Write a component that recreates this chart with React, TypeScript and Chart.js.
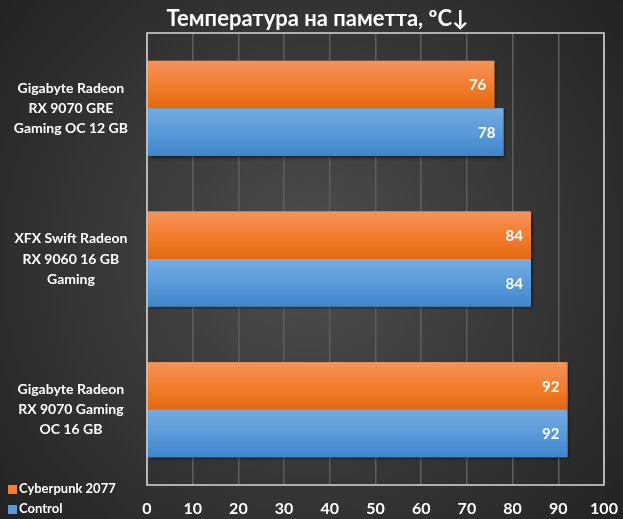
import React, { useEffect, useRef } from "react";
import { Chart, registerables } from "chart.js";

Chart.register(...registerables);

const title = "Температура на паметта, ºC↓";
const categories: string[][] = [
  ["Gigabyte Radeon", "RX 9070 GRE", "Gaming OC 12 GB"],
  ["XFX Swift Radeon", "RX 9060 16 GB", "Gaming"],
  ["Gigabyte Radeon", "RX 9070 Gaming", "OC 16 GB"],
];
const seriesNames = ["Cyberpunk 2077", "Control"];
const cyberpunk = [76, 84, 92];
const control = [78, 84, 92];
const xTicks = [0, 10, 20, 30, 40, 50, 60, 70, 80, 90, 100];

const FONT = "Lato, 'Open Sans', sans-serif";
const ORANGE = ["#f3935c", "#f47e2e", "#e2690f"];
const BLUE = ["#75abe0", "#5a9ada", "#3f86cc"];

export default function App() {
  const ref = useRef<HTMLCanvasElement | null>(null);
  useEffect(() => {
    const canvas = ref.current!;
    const bgPlugin = {
      id: "bg",
      beforeDraw(chart: any) {
        const { ctx, width, height } = chart;
        ctx.save();
        const g = ctx.createRadialGradient(width / 2, height / 2, 20, width / 2, height / 2, Math.max(width, height) * 0.75);
        g.addColorStop(0, "#4c4c4c");
        g.addColorStop(1, "#1c1c1c");
        ctx.fillStyle = g;
        ctx.fillRect(0, 0, width, height);
        ctx.fillStyle = "#ffffff";
        ctx.font = `bold 22px ${FONT}`;
        ctx.textAlign = "center";
        ctx.textBaseline = "middle";
        ctx.fillText(title, width / 2 + 6, 19);
        ctx.restore();
      },
      beforeDatasetsDraw(chart: any) {
        const { ctx } = chart;
        ctx.save();
        ctx.shadowColor = "rgba(0,0,0,0.55)";
        ctx.shadowBlur = 3;
        ctx.shadowOffsetX = 2;
        ctx.shadowOffsetY = 2;
      },
      afterDatasetsDraw(chart: any) {
        const { ctx } = chart;
        ctx.restore();
        ctx.save();
        chart.data.datasets.forEach((ds: any, di: number) => {
          const meta = chart.getDatasetMeta(di);
          const stops = di === 0 ? ORANGE : BLUE;
          meta.data.forEach((el: any, i: number) => {
            const top = el.y - el.height / 2;
            const g = ctx.createLinearGradient(0, top, 0, top + el.height);
            g.addColorStop(0, stops[0]);
            g.addColorStop(0.5, stops[1]);
            g.addColorStop(1, stops[2]);
            ctx.fillStyle = g;
            ctx.fillRect(el.base, top, el.x - el.base, el.height);
            ctx.fillStyle = "#ffffff";
            ctx.font = `bold 15px ${FONT}`;
            ctx.textAlign = "right";
            ctx.textBaseline = "middle";
            ctx.fillText(String(ds.data[i]), el.x - 8, el.y + 1);
          });
        });
        const a = chart.chartArea;
        ctx.strokeStyle = "#d9d9d9";
        ctx.lineWidth = 1.5;
        ctx.strokeRect(a.left, a.top, a.right - a.left, a.bottom - a.top);
        const items = [
          { name: seriesNames[0], color: ORANGE[1], y: 489 },
          { name: seriesNames[1], color: BLUE[1], y: 509 },
        ];
        ctx.font = `bold 13px ${FONT}`;
        ctx.textAlign = "left";
        ctx.textBaseline = "middle";
        items.forEach((it) => {
          ctx.fillStyle = it.color;
          ctx.fillRect(8, it.y - 4, 9, 9);
          ctx.fillStyle = "#ffffff";
          ctx.fillText(it.name, 19, it.y);
        });
        ctx.restore();
      },
    };

    const chart = new Chart(canvas, {
      type: "bar",
      data: {
        labels: categories,
        datasets: [
          { label: seriesNames[0], data: cyberpunk, backgroundColor: ORANGE[1], borderWidth: 0, categoryPercentage: 0.63, barPercentage: 1 },
          { label: seriesNames[1], data: control, backgroundColor: BLUE[1], borderWidth: 0, categoryPercentage: 0.63, barPercentage: 1 },
        ],
      },
      options: {
        indexAxis: "y",
        animation: false,
        responsive: false,
        devicePixelRatio: 1,
        layout: { padding: { top: 33, right: 19, left: 0, bottom: 0 } },
        plugins: {
          legend: { display: false },
          title: { display: false },
          tooltip: { enabled: false },
        },
        scales: {
          x: {
            min: 0,
            max: 100,
            afterBuildTicks: (s: any) => {
              s.ticks = xTicks.map((v) => ({ value: v }));
            },
            afterFit: (s: any) => {
              s.height = 34;
              s.paddingLeft = 0;
              s.paddingRight = 0;
            },
            grid: { color: "#5e5e5e", lineWidth: 1.5, drawTicks: false },
            border: { display: false },
            ticks: { color: "#ffffff", font: { family: FONT, size: 16, weight: "bold" }, padding: 14 },
          },
          y: {
            afterFit: (s: any) => {
              s.width = 147;
              s.paddingTop = 0;
              s.paddingBottom = 0;
            },
            grid: { display: false, drawTicks: false },
            border: { display: false },
            ticks: {
              color: "#ffffff",
              crossAlign: "center",
              padding: 19,
              font: { family: FONT, size: 14, weight: "bold", lineHeight: 1.45 },
            },
          },
        },
      },
      plugins: [bgPlugin],
    } as any);
    return () => chart.destroy();
  }, []);
  return (
    <div style={{ position: "fixed", left: 0, top: 0, width: 623, height: 519 }}>
      <canvas ref={ref} width={623} height={519} style={{ display: "block", width: 623, height: 519 }} />
    </div>
  );
}
